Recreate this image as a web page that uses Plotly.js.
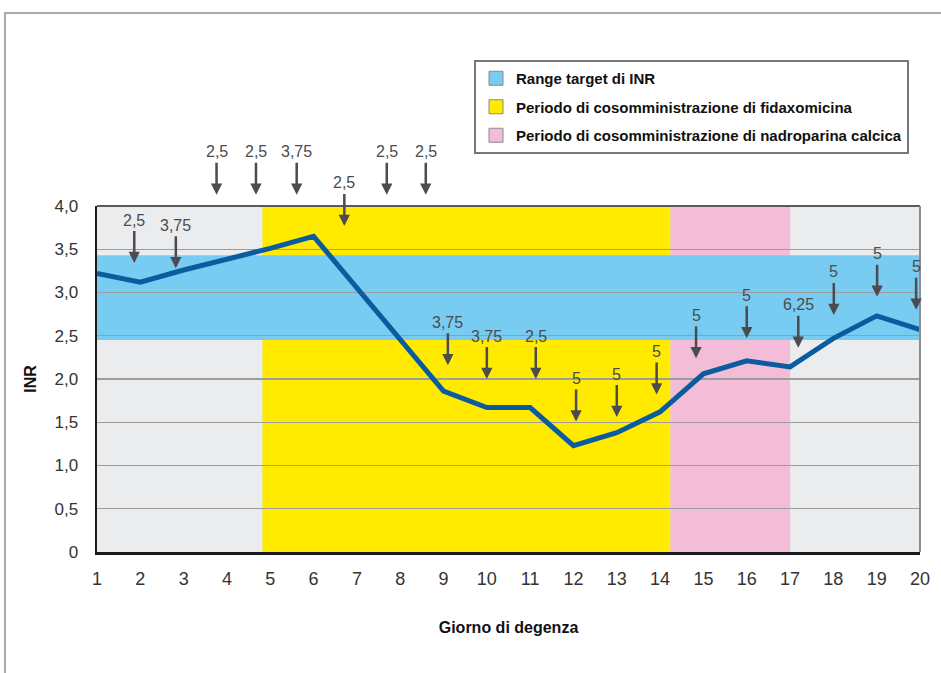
<!DOCTYPE html>
<html><head><meta charset="utf-8">
<script src="https://cdn.plot.ly/plotly-3.0.1.min.js"></script>
<style>
html,body{margin:0;padding:0;background:#fff;overflow:hidden;}
#chart{width:941px;height:673px;}
#frame{position:absolute;left:4px;top:12px;width:945px;height:670px;border-top:2px solid #a9a9a9;border-left:2px solid #a9a9a9;pointer-events:none;}
</style></head><body>
<div id="chart"></div><div id="frame"></div>
<script>
// ---- data ----
const days = [1,2,3,4,5,6,7,8,9,10,11,12,13,14,15,16,17,18,19,20];
const inr  = [3.22,3.12,3.26,3.38,3.51,3.65,3.06,2.46,1.86,1.67,1.67,1.23,1.38,1.62,2.06,2.21,2.14,2.47,2.73,2.57];

const targetRange   = [2.45, 3.43];   // Range target di INR
const fidaxPeriod   = [4.82, 14.24];  // Periodo fidaxomicina (giorni)
const nadroPeriod   = [14.24, 17.0];  // Periodo nadroparina calcica (giorni)

const doseDays  = [1.86,2.82,3.76,4.67,5.61,6.71,7.69,8.59,9.10,10.0,11.13,12.06,13.0,13.92,14.83,16.0,17.19,18.01,19.01,19.91];
const doseText  = ['2,5','3,75','2,5','2,5','3,75','2,5','2,5','2,5','3,75','3,75','2,5','5','5','5','5','5','6,25','5','5','5'];
const doseTipY  = [3.34,3.28,4.13,4.13,4.13,3.77,4.13,4.13,2.16,2.0,2.0,1.51,1.56,1.82,2.24,2.47,2.36,2.74,2.95,2.80];

const yTickVals = [0,0.5,1,1.5,2,2.5,3,3.5,4];
const yTickText = ['0','0,5','1,0','1,5','2,0','2,5','3,0','3,5','4,0'];

const legendNames = ['Range target di INR','Periodo di cosomministrazione di fidaxomicina','Periodo di cosomministrazione di nadroparina calcica'];

// ---- styles ----
const C_BLUE = '#78cbf1', C_YELLOW = '#ffea00', C_PINK = '#f3bdd7', C_LINE = '#0b5c9e', C_ARROW = '#4b4b50';
const NUM_FONT = '"Liberation Sans", Arial, sans-serif';
const BOLD_FONT = '"Liberation Sans Narrow", "Liberation Sans", Arial, sans-serif';
const Y_MAX = 4;
const legendColors = [C_BLUE, C_YELLOW, C_PINK];

const traces = [{
  x: days, y: inr, type: 'scatter', mode: 'lines',
  line: {color: C_LINE, width: 5}, showlegend: false, hoverinfo: 'skip'
}];
legendNames.forEach((n, i) => traces.push({
  x: [null], y: [null], type: 'scatter', mode: 'markers', name: n,
  legendgroup: 'g' + i,
  marker: {symbol: 'square', size: 14, color: legendColors[i], line: {color: '#8a8a8a', width: 1}}
}));

const shapes = [
  {type:'rect', xref:'x', yref:'y', x0: fidaxPeriod[0], x1: fidaxPeriod[1], y0: 0, y1: Y_MAX, fillcolor: C_YELLOW, line:{width:0}, layer:'below'},
  {type:'rect', xref:'x', yref:'y', x0: nadroPeriod[0], x1: nadroPeriod[1], y0: 0, y1: Y_MAX, fillcolor: C_PINK, line:{width:0}, layer:'below'},
  {type:'rect', xref:'x', yref:'y', x0: days[0], x1: days[days.length-1], y0: targetRange[0], y1: targetRange[1], fillcolor: C_BLUE, line:{width:0}, layer:'below'},
  {type:'line', xref:'paper', yref:'paper', x0:0, x1:1, y0:1, y1:1, line:{color:'#5a5a5a', width:2}, layer:'above'},
  {type:'line', xref:'paper', yref:'paper', x0:1, x1:1, y0:0, y1:1, line:{color:'#8c8c8c', width:2}, layer:'above'}
];

const annotations = doseDays.map((d, i) => ({
  x: d, xref: 'x', y: doseTipY[i] / Y_MAX, yref: 'paper',
  text: doseText[i], showarrow: true, arrowhead: 2, arrowsize: 0.9, arrowwidth: 2.5,
  arrowcolor: C_ARROW, ax: 0, ay: -43, startstandoff: 1,
  font: {family: NUM_FONT, size: 16, color: C_ARROW}
}));

const layout = {
  width: 941, height: 673,
  margin: {l: 97, r: 21, t: 206, b: 121, pad: 0, autoexpand: false},
  paper_bgcolor: 'rgba(0,0,0,0)', plot_bgcolor: '#ebecee',
  showlegend: true,
  legend: {
    xref: 'container', yref: 'container',
    x: 474/941, y: 1 - 60/673, xanchor: 'left', yanchor: 'top',
    bgcolor: '#ffffff', bordercolor: '#777777', borderwidth: 2,
    font: {family: BOLD_FONT, size: 15, color: '#111', weight: 'bold'},
    traceorder: 'grouped', tracegroupgap: 6, itemsizing: 'trace'
  },
  xaxis: {
    range: [days[0], days[days.length-1]], tickvals: days, ticktext: days.map(String),
    showgrid: false, zeroline: false, showline: true, linecolor: '#1a1a1a', linewidth: 2.5,
    ticks: '', ticklabelstandoff: 9,
    tickfont: {family: NUM_FONT, size: 18, color: '#333'},
    title: {text: 'Giorno di degenza', standoff: 34, font: {family: BOLD_FONT, size: 16, color: '#111', weight: 'bold'}}
  },
  yaxis: {
    range: [0, Y_MAX], tickvals: yTickVals, ticktext: yTickText,
    showgrid: true, gridcolor: '#9d9d9d', gridwidth: 1.2, zeroline: false,
    showline: true, linecolor: '#1a1a1a', linewidth: 2.5,
    ticks: '', ticklabelstandoff: 13,
    tickfont: {family: NUM_FONT, size: 17, color: '#333'},
    title: {text: 'INR', standoff: 14, font: {family: BOLD_FONT, size: 16, color: '#111', weight: 'bold'}}
  },
  shapes: shapes,
  annotations: annotations
};

Plotly.newPlot('chart', traces, layout, {displayModeBar: false, staticPlot: true});
</script>
</body></html>
